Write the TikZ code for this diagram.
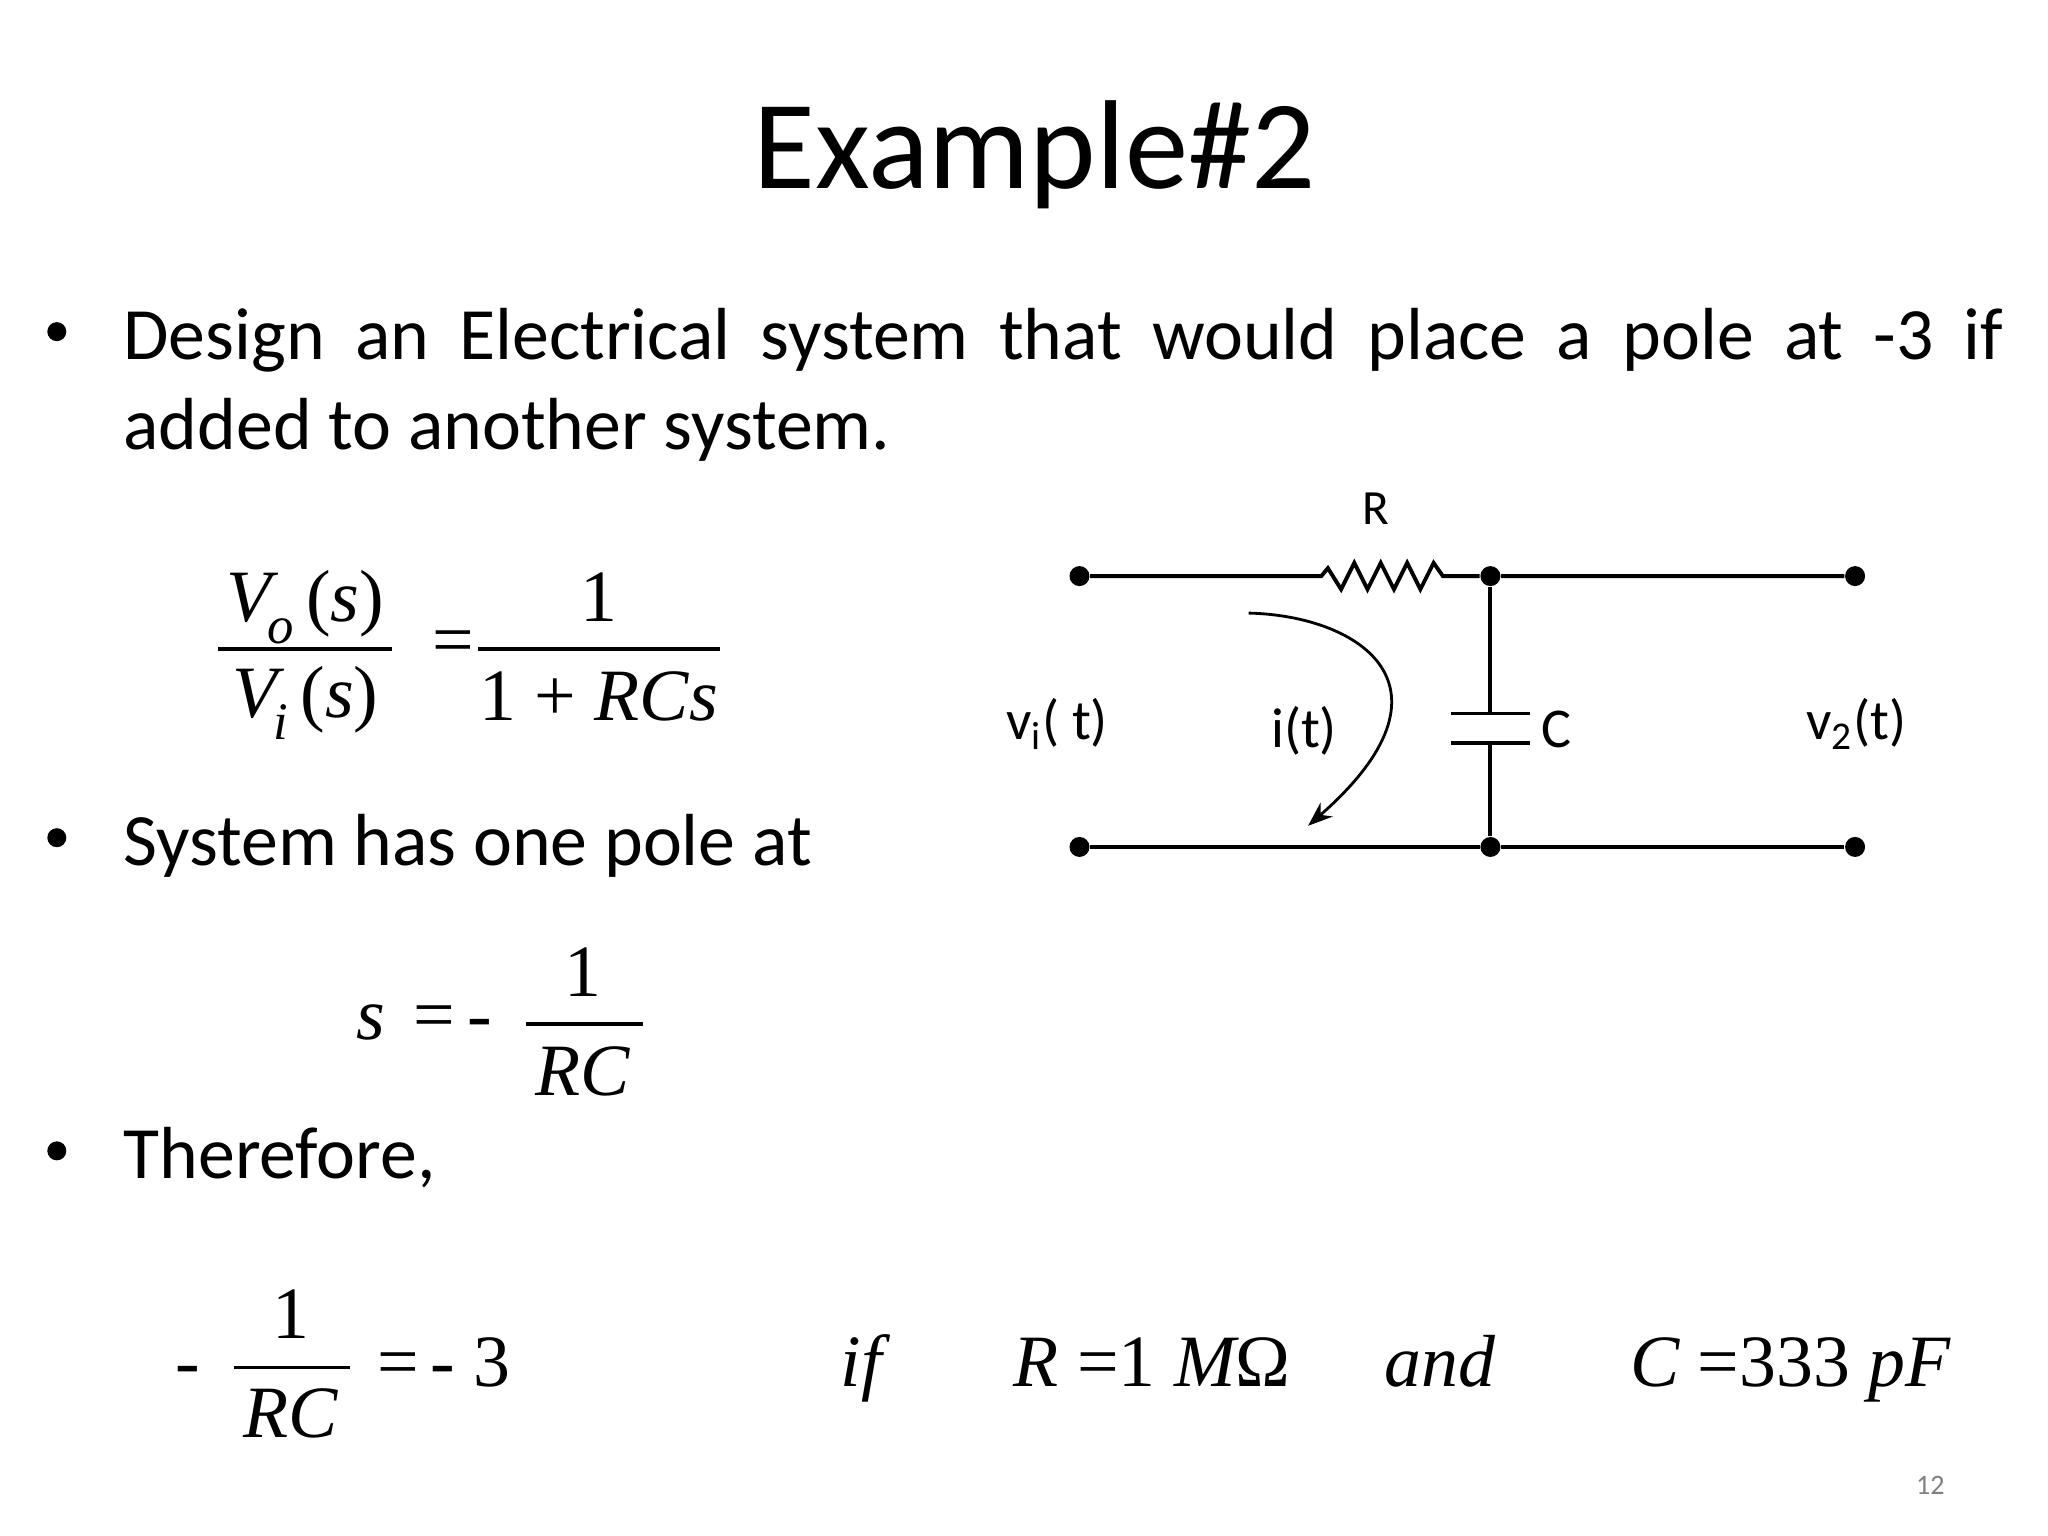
\documentclass[tikz,border=0pt]{standalone}
\usepackage{fontspec}
\setmainfont{Carlito}
\newfontfamily\mth{Liberation Serif}
\usetikzlibrary{arrows.meta}
\begin{document}
\begin{tikzpicture}[x=0.013213cm,y=-0.013213cm,
  body/.style={font=\fontsize{21}{25.5}\selectfont,anchor=base west,inner sep=0},
  eq/.style={font=\mth\fontsize{21}{25}\selectfont,anchor=base,inner sep=0},
  eqi/.style={font=\mth\itshape\fontsize{21}{25}\selectfont,anchor=base,inner sep=0},
  dot/.style={circle,fill,inner sep=0,minimum size=0.2cm},
  lbl/.style={font=\fontsize{16}{19}\selectfont,anchor=base,inner sep=0},
  wire/.style={line width=1.1pt}]
\useasboundingbox (0,0) rectangle (1550,1162.5);
\node[font=\fontsize{36}{42}\selectfont,anchor=base,inner sep=0] (title) at (783,143) {Example\#2};
% bullets
\foreach \n/\yy in {b1/268,b2/651,b3/888}{\node[circle,fill,inner sep=0,minimum size=0.19cm] (\n) at (43,\yy-17) {};}
\node[body,anchor=base west,text width=535pt,align=justify] (t1) at (93,272)
 {Design an Electrical system that would place a pole at -3 if\linebreak added to another system.};
\node[body] (t2) at (93,655) {System has one pole at};
\node[body] (t3) at (93,892) {Therefore,};
% eq1
\node[eqi] (e1a) at (231,470) {V\kern-1pt\raisebox{-0.3em}{\fontsize{15}{15}\selectfont o}\,\upshape(\itshape s\upshape)};
\node[eqi] (e1b) at (231,543) {V\kern-1pt\raisebox{-0.3em}{\fontsize{15}{15}\selectfont i}\,\upshape(\itshape s\upshape)};
\draw[line width=1pt] (165,491) -- (297,491);
\node[eq] (e1eq) at (343,503) {=};
\node[eq] (e1c) at (453,470) {1};
\node[eq] (e1d) at (453,545) {1 + \itshape RCs};
\draw[line width=1pt] (362,491) -- (545,491);
% eq2
\node[eqi] (s) at (281,787) {s};
\node[eq] (e2eq) at (343,787) {=\,-};
\node[eq] (e2a) at (441,754) {1};
\node[eqi] (e2b) at (441,829) {RC};
\draw[line width=1pt] (398,775) -- (487,775);
% eq3
\node[eq] (m3) at (142,1049) {-};
\node[eq] (e3a) at (220,1013) {1};
\node[eqi] (e3b) at (220,1088) {RC};
\draw[line width=1pt] (177,1035) -- (265,1035);
\node[eq] (e3c) at (336,1049) {=\,- 3};
\node[eqi] (if) at (652,1049) {if};
\node[eq] (rv) at (872,1049) {\itshape R \upshape =1 \itshape M\upshape Ω};
\node[eqi] (and) at (1090,1049) {and};
\node[eq] (cv) at (1355,1049) {\itshape C \upshape =333 \itshape pF};
\node[font=\fontsize{8}{10}\selectfont,text=gray] (pg) at (1461,1124) {12};
% circuit
\node[dot] (a1) at (817,436) {};
\node[dot] (a2) at (1128,436) {};
\node[dot] (a3) at (1404,436) {};
\node[dot] (b1c) at (817,641) {};
\node[dot] (b2c) at (1128,641) {};
\node[dot] (b3c) at (1404,641) {};
\coordinate (r1) at (1000,436);
\coordinate (r2) at (1092,436);
\coordinate (c1) at (1128,540);
\coordinate (c2) at (1128,562);
\draw[wire] (a1) -- (r1) -- (1005,430) -- (1015,446) -- (1025,426) -- (1035,446) -- (1045,426) -- (1055,446) -- (1065,426) -- (1075,446) -- (1085,426) -- (r2) -- (a2) -- (a3);
\draw[wire] (b1c) -- (b2c) -- (b3c);
\draw[wire] (a2) -- (c1);
\draw[wire] (c2) -- (b2c);
\draw[wire] (1098,540) -- (1158,540);
\draw[wire] (1098,562) -- (1158,562);
\node[font=\fontsize{14}{16}\selectfont] (rl) at (1041,385) {R};
\node[lbl] (cl) at (1178,566) {C};
\node[lbl] (vi) at (800,560) {v\textsubscript{i}( t)};
\node[lbl] (il) at (987,566) {i(t)};
\node[lbl] (vo) at (1405,560) {v\textsubscript{2}(t)};
\coordinate (i1) at (945,464);
\coordinate (i2) at (990,625);
\draw[line width=0.8pt,-{Stealth[length=7pt]}] (i1) .. controls (1030,466) and (1110,520) .. (i2);
\end{tikzpicture}
\end{document}
